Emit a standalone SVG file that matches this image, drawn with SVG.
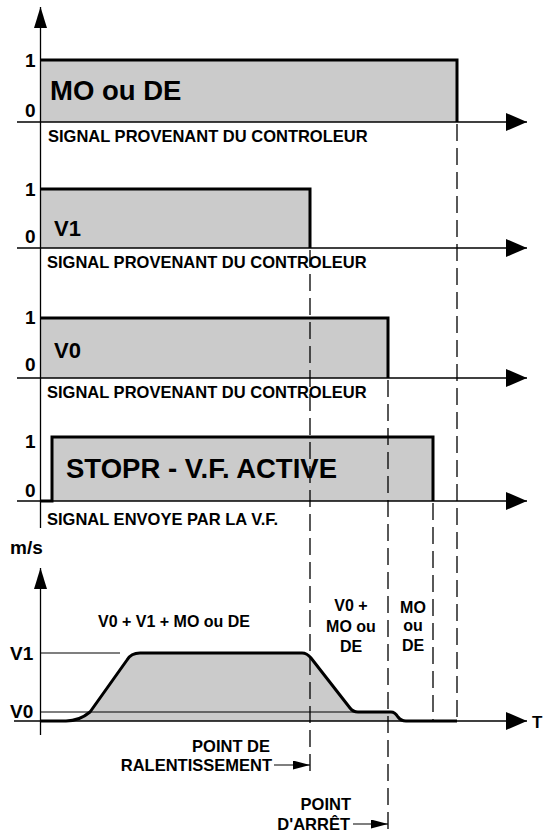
<svg xmlns="http://www.w3.org/2000/svg" width="545" height="832" viewBox="0 0 545 832">
<style>
text{font-family:"Liberation Sans",Arial,Helvetica,sans-serif;font-weight:bold;fill:#000}
.ax{stroke:#000;stroke-width:1.3;fill:none}
.sig{stroke:#000;stroke-width:3;fill:none;stroke-linejoin:miter}
.fill{fill:#cbcbcb;stroke:none}
.dash{stroke:#000;stroke-width:1.3;stroke-dasharray:17 7;fill:none}
.thin{stroke:#000;stroke-width:1.2;fill:none}
.big{font-size:27.5px}
.mid{font-size:22px}
.lab{font-size:19px}
.cap{font-size:16.5px}
.sm{font-size:16px}
</style>
<defs>
<marker id="ah" markerUnits="userSpaceOnUse" markerWidth="22" markerHeight="18" refX="21" refY="9" orient="auto"><path d="M0,0 L21,9 L0,18 Z" fill="#000"/></marker>
<marker id="av" markerUnits="userSpaceOnUse" markerWidth="22" markerHeight="14" refX="21" refY="6.5" orient="auto"><path d="M0,0 L21,6.5 L0,13 Z" fill="#000"/></marker>
<marker id="as" markerUnits="userSpaceOnUse" markerWidth="18" markerHeight="10" refX="17" refY="4.5" orient="auto"><path d="M0,0 L17,4.5 L0,9 Z" fill="#000"/></marker>
</defs>

<g id="panel-mo-de">
<rect class="fill" x="40" y="60" width="417" height="62"/>
<path class="sig" d="M40,60 L457,60 L457,122"/>
<text class="big" x="50" y="100">MO ou DE</text>
<text class="lab" x="25" y="67">1</text>
<text class="lab" x="25" y="117">0</text>
<text class="cap" x="48" y="142">SIGNAL PROVENANT DU CONTROLEUR</text>
</g>

<g id="panel-v1">
<rect class="fill" x="40" y="189" width="270" height="59"/>
<path class="sig" d="M40,189 L310,189 L310,248"/>
<text class="mid" x="54" y="236">V1</text>
<text class="lab" x="25" y="196">1</text>
<text class="lab" x="25" y="243">0</text>
<text class="cap" x="47" y="268">SIGNAL PROVENANT DU CONTROLEUR</text>
</g>

<g id="panel-v0">
<rect class="fill" x="40" y="318" width="348" height="60"/>
<path class="sig" d="M40,318 L388,318 L388,378"/>
<text class="mid" x="54" y="358">V0</text>
<text class="lab" x="25" y="324">1</text>
<text class="lab" x="25" y="371">0</text>
<text class="cap" x="47" y="398">SIGNAL PROVENANT DU CONTROLEUR</text>
</g>

<g id="panel-stopr">
<rect class="fill" x="52" y="437" width="381" height="64"/>
<path class="sig" d="M40,501 L52,501 L52,437 L433,437 L433,501"/>
<text class="big" x="66" y="478">STOPR - V.F. ACTIVE</text>
<text class="lab" x="25" y="448">1</text>
<text class="lab" x="25" y="497">0</text>
<text class="cap" x="47" y="525">SIGNAL ENVOYE PAR LA V.F.</text>
</g>

<g id="speed-graph">
<path class="fill" d="M40,721 L66,721 C76,721 84,717 90,712 L127,660 Q131,653 140,653 L302,653 Q307,653 311,658 L350,708 Q353,712 358,712 L391,712 Q395,712 398,717 Q401,721 406,721 Z"/>
<line class="thin" x1="40" y1="653" x2="120" y2="653"/>
<line class="thin" x1="40" y1="712" x2="358" y2="712"/>
<path class="sig" d="M40,721 L66,721 C76,721 84,717 90,712 L127,660 Q131,653 140,653 L302,653 Q307,653 311,658 L350,708 Q353,712 358,712 L391,712 Q395,712 398,717 Q401,721 406,721 L457,721"/>
<text class="lab" x="10" y="554">m/s</text>
<text class="lab" x="10" y="660">V1</text>
<text class="lab" x="10" y="718">V0</text>
<text x="532" y="728" style="font-size:17px">T</text>
<text class="sm" x="174" y="627" text-anchor="middle">V0 + V1 + MO ou DE</text>
<text class="sm" x="351" y="611" text-anchor="middle">V0 +</text>
<text class="sm" x="351" y="632" text-anchor="middle">MO ou</text>
<text class="sm" x="351" y="652" text-anchor="middle">DE</text>
<text class="sm" x="413" y="613" text-anchor="middle">MO</text>
<text class="sm" x="413" y="631" text-anchor="middle">ou</text>
<text class="sm" x="413" y="651" text-anchor="middle">DE</text>
</g>

<g id="point-ralentissement">
<text class="cap" x="270" y="752" text-anchor="end">POINT DE</text>
<text class="cap" x="272" y="771" text-anchor="end">RALENTISSEMENT</text>
</g>

<g id="point-arret">
<text class="cap" x="351" y="810" text-anchor="end">POINT</text>
<text class="cap" x="350" y="830" text-anchor="end">D'ARRÊT</text>
</g>

<g id="connectors">
<line class="ax" x1="40.5" y1="528" x2="40.5" y2="7" marker-end="url(#av)"/>
<line class="ax" x1="17" y1="122" x2="527" y2="122" marker-end="url(#ah)"/>
<line class="ax" x1="17" y1="248" x2="527" y2="248" marker-end="url(#ah)"/>
<line class="ax" x1="17" y1="378" x2="527" y2="378" marker-end="url(#ah)"/>
<line class="ax" x1="17" y1="501" x2="527" y2="501" marker-end="url(#ah)"/>
<line class="ax" x1="40.5" y1="735" x2="40.5" y2="568" marker-end="url(#av)"/>
<line class="ax" x1="14" y1="721" x2="527" y2="721" marker-end="url(#ah)"/>
<line class="dash" x1="457" y1="124" x2="457" y2="721"/>
<line class="dash" x1="310" y1="250" x2="310" y2="775"/>
<line class="dash" x1="388" y1="380" x2="388" y2="832"/>
<line class="dash" x1="433" y1="503" x2="433" y2="721"/>
<line class="thin" x1="274" y1="765" x2="310" y2="765" marker-end="url(#as)"/>
<line class="thin" x1="353" y1="824" x2="388" y2="824" marker-end="url(#as)"/>
</g>
</svg>
